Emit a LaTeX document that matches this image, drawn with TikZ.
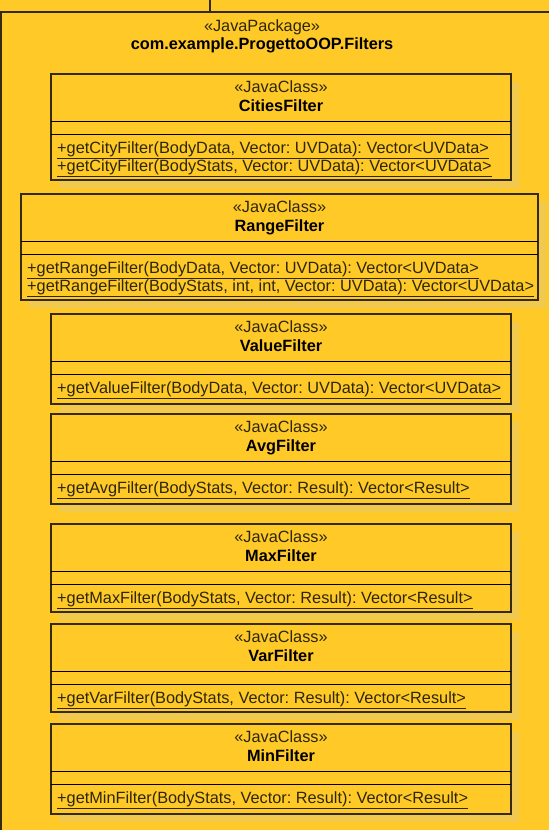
\documentclass[tikz,border=0pt]{standalone}
\usepackage{fontspec}
\setmainfont{Liberation Sans}
\frenchspacing
\definecolor{pkgfill}{RGB}{255,202,40}
\definecolor{shadowfill}{RGB}{241,201,78}
\definecolor{umlline}{RGB}{52,42,12}
\definecolor{stereotext}{RGB}{45,38,10}
\tikzset{
  umlfont/.style={font=\fontsize{16.3}{19}\selectfont},
  pkgline/.style={draw=umlline, line width=1.3pt},
  classbox/.style={draw=umlline, fill=pkgfill, line width=1.3pt},
  shadowbox/.style={fill=shadowfill},
  divider/.style={draw=black, line width=0.9pt},
  stereo/.style={umlfont, anchor=base, inner sep=0pt, text=stereotext},
  cname/.style={umlfont, anchor=base, inner sep=0pt, font=\fontsize{16.3}{19}\selectfont\bfseries},
  method/.style={umlfont, anchor=base west, inner sep=0pt, text=stereotext}
}
\begin{document}
\begin{tikzpicture}[x=1pt, y=-1pt]

  \useasboundingbox (0,0) rectangle (549,830);

  % --- package ---
  \fill[pkgfill] (0,0) rectangle (549,830);
  \draw[pkgline] (0,12) -- (549,12);
  \draw[pkgline] (210,0) -- (210,12);
  \draw[pkgline] (1,12) -- (1,830);
  \node[stereo] (pkg-st) at (262,31) {«JavaPackage»};
  \node[cname] (pkg) at (262,49) {com.example.ProgettoOOP.Filters};

  % --- CitiesFilter ---
  \fill[shadowbox] (59,82) rectangle (519,188);
  \draw[classbox] (51,74) rectangle (511,180);
  \draw[divider] (51,121) -- (511,121);
  \draw[divider] (51,134) -- (511,134);
  \node[stereo] (cities-st) at (281,92) {«JavaClass»};
  \node[cname] (cities) at (281,111) {CitiesFilter};
  \node[method] (cities-m1) at (57,153) {\underline{+getCityFilter(BodyData, Vector: UVData): Vector<UVData>}};
  \node[method] (cities-m2) at (57,171) {\underline{+getCityFilter(BodyStats, Vector: UVData): Vector<UVData>}};

  % --- RangeFilter ---
  \fill[shadowbox] (29,202) rectangle (546,308);
  \draw[classbox] (21,194) rectangle (538,300);
  \draw[divider] (21,241) -- (538,241);
  \draw[divider] (21,254) -- (538,254);
  \node[stereo] (range-st) at (279.5,212) {«JavaClass»};
  \node[cname] (range) at (279.5,231) {RangeFilter};
  \node[method] (range-m1) at (27,273) {\underline{+getRangeFilter(BodyData, Vector: UVData): Vector<UVData>}};
  \node[method] (range-m2) at (27,291) {\underline{+getRangeFilter(BodyStats, int, int, Vector: UVData): Vector<UVData>}};

  % --- ValueFilter ---
  \fill[shadowbox] (59,322) rectangle (519,412);
  \draw[classbox] (51,314) rectangle (511,404);
  \draw[divider] (51,361) -- (511,361);
  \draw[divider] (51,374) -- (511,374);
  \node[stereo] (value-st) at (281,332) {«JavaClass»};
  \node[cname] (value) at (281,351) {ValueFilter};
  \node[method] (value-m1) at (57,393) {\underline{+getValueFilter(BodyData, Vector: UVData): Vector<UVData>}};

  % --- AvgFilter ---
  \fill[shadowbox] (59,422) rectangle (519,512);
  \draw[classbox] (51,414) rectangle (511,504);
  \draw[divider] (51,461) -- (511,461);
  \draw[divider] (51,474) -- (511,474);
  \node[stereo] (avg-st) at (281,432) {«JavaClass»};
  \node[cname] (avg) at (281,451) {AvgFilter};
  \node[method] (avg-m1) at (57,493) {\underline{+getAvgFilter(BodyStats, Vector: Result): Vector<Result>}};

  % --- MaxFilter ---
  \fill[shadowbox] (59,532) rectangle (519,620);
  \draw[classbox] (51,524) rectangle (511,612);
  \draw[divider] (51,571) -- (511,571);
  \draw[divider] (51,584) -- (511,584);
  \node[stereo] (max-st) at (281,542) {«JavaClass»};
  \node[cname] (max) at (281,561) {MaxFilter};
  \node[method] (max-m1) at (57,603) {\underline{+getMaxFilter(BodyStats, Vector: Result): Vector<Result>}};

  % --- VarFilter ---
  \fill[shadowbox] (59,632) rectangle (519,720);
  \draw[classbox] (51,624) rectangle (511,712);
  \draw[divider] (51,671) -- (511,671);
  \draw[divider] (51,684) -- (511,684);
  \node[stereo] (var-st) at (281,642) {«JavaClass»};
  \node[cname] (var) at (281,661) {VarFilter};
  \node[method] (var-m1) at (57,703) {\underline{+getVarFilter(BodyStats, Vector: Result): Vector<Result>}};

  % --- MinFilter ---
  \fill[shadowbox] (59,732) rectangle (519,822);
  \draw[classbox] (51,724) rectangle (511,814);
  \draw[divider] (51,771) -- (511,771);
  \draw[divider] (51,784) -- (511,784);
  \node[stereo] (min-st) at (281,742) {«JavaClass»};
  \node[cname] (min) at (281,761) {MinFilter};
  \node[method] (min-m1) at (57,803) {\underline{+getMinFilter(BodyStats, Vector: Result): Vector<Result>}};

\end{tikzpicture}
\end{document}
